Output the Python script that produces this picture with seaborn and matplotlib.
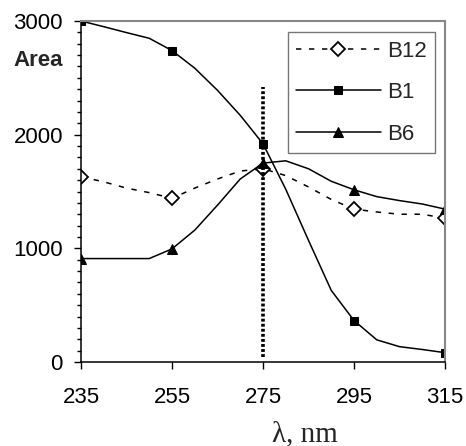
import matplotlib
matplotlib.use("Agg")
import matplotlib.pyplot as plt
from matplotlib.ticker import MultipleLocator
import seaborn as sns
import pandas as pd

wavelength = [235, 240, 245, 250, 255, 260, 265, 270, 275, 280, 285, 290, 295, 300, 305, 310, 315]
b12 = [1630, 1585, 1530, 1490, 1440, 1530, 1610, 1680, 1700, 1640, 1540, 1430, 1345, 1320, 1300, 1300, 1265]
b1 = [3000, 2950, 2898, 2848, 2740, 2585, 2390, 2170, 1920, 1520, 1070, 630, 365, 195, 135, 110, 82]
b6 = [910, 910, 910, 910, 995, 1160, 1380, 1610, 1750, 1770, 1700, 1590, 1515, 1455, 1420, 1390, 1345]
x_ticks = [235, 255, 275, 295, 315]
y_ticks = [0, 1000, 2000, 3000]
marker_idx = [0, 4, 8, 12, 16]
vline_x = 275
vline_range = [40, 2420]

sns.set_style("ticks")
plt.rcParams['font.family'] = ['Liberation Sans', 'DejaVu Sans']

df = pd.DataFrame({"x": wavelength, "B12": b12, "B1": b1, "B6": b6})

fig = plt.figure(figsize=(4.66, 4.46), dpi=100)
ax = fig.add_axes([81/466, 1 - 362/446, (445-81)/466, (362-21)/446])

sns.lineplot(data=df, x="x", y="B12", ax=ax, color="black", lw=1.1,
             linestyle=(0, (3.5, 5)), marker="D", markersize=7.5,
             markerfacecolor="white", markeredgecolor="black", markeredgewidth=1.3,
             markevery=marker_idx, label="B12")
sns.lineplot(data=df, x="x", y="B1", ax=ax, color="black", lw=1.1,
             marker="s", markersize=5.5, markerfacecolor="black",
             markeredgecolor="black", markevery=marker_idx, label="B1")
sns.lineplot(data=df, x="x", y="B6", ax=ax, color="black", lw=1.1,
             marker="^", markersize=7.5, markerfacecolor="black",
             markeredgecolor="black", markevery=marker_idx, label="B6")

ax.vlines(vline_x, vline_range[0], vline_range[1], colors="black",
          linestyles=(0, (0.8, 0.6)), lw=2.6)

ax.set_xlim(235, 315)
ax.set_ylim(0, 3000)
ax.set_xticks(x_ticks)
ax.set_xticklabels([str(v) for v in x_ticks])
ax.set_yticks(y_ticks)
ax.set_yticklabels([str(v) for v in y_ticks])
ax.yaxis.set_minor_locator(MultipleLocator(100))
ax.tick_params(axis="both", which="major", labelsize=16, colors="black",
               direction="out", width=1, length=5)
ax.tick_params(axis="y", which="major", pad=8)
ax.tick_params(axis="x", which="major", pad=13)
ax.tick_params(axis="y", which="minor", direction="out", length=3, width=1, color="black")
ax.tick_params(axis="x", which="minor", length=0)

for s in ["left", "bottom"]:
    ax.spines[s].set_color("black")
    ax.spines[s].set_linewidth(1.1)
for s in ["top", "right"]:
    ax.spines[s].set_color("#888888")
    ax.spines[s].set_linewidth(1.5)

ax.set_xlabel("")
ax.set_ylabel("")
fig.text(13/466, 1 - 60/446, "Area", fontsize=16, fontweight="bold",
         ha="left", va="center")
fig.text(305/466, 1 - 434/446, "λ, nm", fontsize=21,
         family=["Liberation Serif", "DejaVu Serif"], ha="center", va="center")

leg = ax.legend(loc="upper left", bbox_to_anchor=((287.7-81)/364, (362-32.3)/341),
                fontsize=16, frameon=True, fancybox=False, handlelength=3.8,
                labelspacing=0.92, borderpad=0.38, handletextpad=0.3,
                borderaxespad=0, numpoints=1)
leg.get_frame().set_edgecolor("#555555")
leg.get_frame().set_linewidth(1.0)

fig.savefig("out.png", dpi=100)
